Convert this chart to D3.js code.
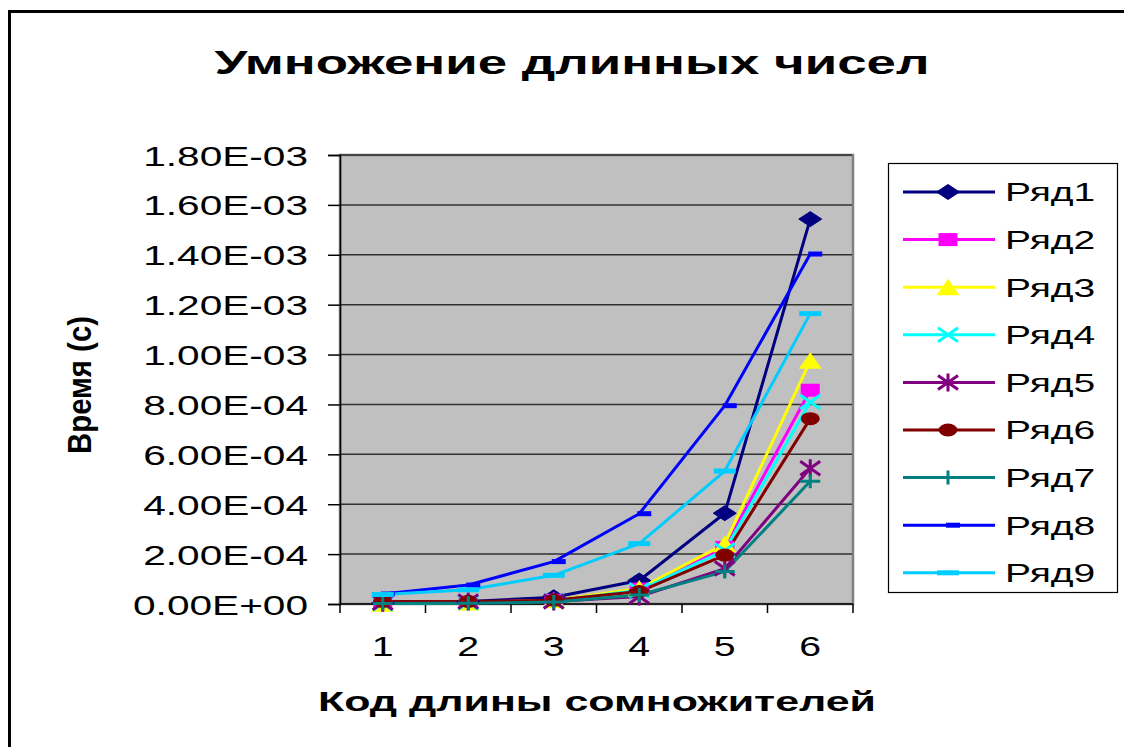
<!DOCTYPE html>
<html>
<head>
<meta charset="utf-8">
<script src="https://cdn.jsdelivr.net/npm/d3@7"></script>
<style>
  html, body { margin: 0; padding: 0; background: #fff; }
  svg { display: block; }
  text { font-family: "Liberation Sans", Arial, sans-serif; fill: #000; }
</style>
</head>
<body>
<svg id="chart" width="1124" height="747"></svg>
<script>
// ---------- data ----------
const categories = ["1", "2", "3", "4", "5", "6"];
const seriesNames = ["Ряд1", "Ряд2", "Ряд3", "Ряд4", "Ряд5", "Ряд6", "Ряд7", "Ряд8", "Ряд9"];
const row1 = [0.03e-4, 0.10e-4, 0.27e-4, 0.94e-4, 3.64e-4, 15.43e-4];
const row2 = [0.02e-4, 0.07e-4, 0.15e-4, 0.60e-4, 2.27e-4, 8.57e-4];
const row3 = [0.01e-4, 0.06e-4, 0.15e-4, 0.62e-4, 2.40e-4, 9.75e-4];
const row4 = [0.02e-4, 0.06e-4, 0.12e-4, 0.55e-4, 2.15e-4, 8.10e-4];
const row5 = [0.05e-4, 0.10e-4, 0.10e-4, 0.30e-4, 1.42e-4, 5.44e-4];
const row6 = [0.10e-4, 0.10e-4, 0.15e-4, 0.50e-4, 1.96e-4, 7.43e-4];
const row7 = [0.02e-4, 0.03e-4, 0.08e-4, 0.36e-4, 1.30e-4, 4.92e-4];
const row8 = [0.40e-4, 0.76e-4, 1.70e-4, 3.62e-4, 7.95e-4, 14.03e-4];
const row9 = [0.38e-4, 0.57e-4, 1.15e-4, 2.42e-4, 5.33e-4, 11.64e-4];
const seriesValues = [row1, row2, row3, row4, row5, row6, row7, row8, row9];
const yTicks = [0, 2e-4, 4e-4, 6e-4, 8e-4, 10e-4, 12e-4, 14e-4, 16e-4, 18e-4];
const titleText = "Умножение длинных чисел";
const xTitle = "Код длины сомножителей";
const yTitle = "Время (с)";

// ---------- styles ----------
const colors = ["#000080", "#FF00FF", "#FFFF00", "#00FFFF", "#800080", "#800000", "#008080", "#0000FF", "#00CCFF"];
const markers = ["diamond", "square", "triangle", "x", "star", "circle", "plus", "dashR", "dash"];

const svg = d3.select("#chart");
const plot = { left: 340, right: 853, top: 155, bottom: 604 };

function stretch(sel, factor) {
  sel.each(function () {
    const l = this.getComputedTextLength();
    this.setAttribute("textLength", l * factor);
    this.setAttribute("lengthAdjust", "spacingAndGlyphs");
  });
}
function fitTo(sel, w) {
  sel.attr("textLength", w).attr("lengthAdjust", "spacingAndGlyphs");
}

// outer frame (partially cropped in the reference)
svg.append("path")
  .attr("d", "M9.5,760 L9.5,11.5 L1140,11.5")
  .attr("fill", "none").attr("stroke", "#000").attr("stroke-width", 3);

// scales
const x = d3.scaleBand().domain(categories).range([plot.left, plot.right]).paddingInner(0).paddingOuter(0);
const xc = c => x(c) + x.bandwidth() / 2;
const y = d3.scaleLinear().domain([0, 18e-4]).range([plot.bottom, plot.top]);

// plot background
svg.append("rect")
  .attr("x", plot.left).attr("y", plot.top)
  .attr("width", plot.right - plot.left).attr("height", plot.bottom - plot.top)
  .attr("fill", "#C0C0C0").attr("stroke", "#808080").attr("stroke-width", 2.5);

// gridlines
svg.append("g").selectAll("line").data(yTicks.slice(1)).join("line")
  .attr("x1", plot.left).attr("x2", plot.right - 1)
  .attr("y1", d => y(d)).attr("y2", d => y(d))
  .attr("stroke", "#303030").attr("stroke-width", 1.5);

// y axis
function fmt(v) {
  const s = v.toExponential(2);
  const [m, e] = s.split("e");
  const sign = e[0] === "-" ? "-" : "+";
  const digits = e.replace(/[+-]/, "").padStart(2, "0");
  return m + "E" + sign + digits;
}
const yAxis = svg.append("g")
  .attr("transform", `translate(${plot.left},0)`)
  .call(d3.axisLeft(y).tickValues(yTicks).tickFormat(fmt).tickSize(12).tickPadding(20));
yAxis.select(".domain").attr("stroke", "#000").attr("stroke-width", 1.5);
yAxis.selectAll(".tick line").attr("stroke", "#000").attr("stroke-width", 1.5);
yAxis.selectAll(".tick text")
  .style("font-size", "28px").attr("fill", "#000").attr("dy", "0.36em");
stretch(yAxis.selectAll(".tick text"), 1.45);

// x axis
const xAxis = svg.append("g")
  .attr("transform", `translate(0,${plot.bottom})`)
  .call(d3.axisBottom(x).tickSize(0).tickPadding(32));
xAxis.select(".domain").remove();
xAxis.selectAll(".tick text").style("font-size", "28px").attr("fill", "#000");
stretch(xAxis.selectAll(".tick text"), 1.4);
svg.append("line")
  .attr("x1", plot.left).attr("x2", plot.right)
  .attr("y1", plot.bottom).attr("y2", plot.bottom)
  .attr("stroke", "#000").attr("stroke-width", 1.5);
const bounds = categories.map(c => x(c)).concat([x(categories[categories.length - 1]) + x.bandwidth()]);
svg.append("g").selectAll("line").data(bounds).join("line")
  .attr("x1", d => d).attr("x2", d => d)
  .attr("y1", plot.bottom).attr("y2", plot.bottom + 9)
  .attr("stroke", "#000").attr("stroke-width", 1.5);

// marker drawing
function drawMarker(g, type, color) {
  const sw = 3;
  switch (type) {
    case "diamond":
      g.append("path").attr("d", "M0,-7.5 L11.5,0 L0,7.5 L-11.5,0 Z").attr("fill", color).attr("stroke", color).attr("stroke-width", 1);
      break;
    case "square":
      g.append("rect").attr("x", -9.5).attr("y", -6.5).attr("width", 19).attr("height", 13).attr("fill", color);
      break;
    case "triangle":
      g.append("path").attr("d", "M0,-8.5 L11.5,8 L-11.5,8 Z").attr("fill", color);
      break;
    case "x":
      g.append("path").attr("d", "M-10,-7 L10,7 M-10,7 L10,-7").attr("stroke", color).attr("stroke-width", sw).attr("fill", "none");
      break;
    case "star":
      g.append("path").attr("d", "M-10,-7 L10,7 M-10,7 L10,-7 M0,-9 L0,9").attr("stroke", color).attr("stroke-width", sw).attr("fill", "none");
      break;
    case "circle":
      g.append("ellipse").attr("rx", 9.5).attr("ry", 6.5).attr("fill", color);
      break;
    case "plus":
      g.append("path").attr("d", "M-10,0 L10,0 M0,-7 L0,7").attr("stroke", color).attr("stroke-width", sw).attr("fill", "none");
      break;
    case "dashR":
      g.append("rect").attr("x", -2).attr("y", -2.5).attr("width", 14).attr("height", 5).attr("fill", color);
      break;
    case "dash":
      g.append("rect").attr("x", -11).attr("y", -2.5).attr("width", 22).attr("height", 5).attr("fill", color);
      break;
  }
}

// series
const line = d3.line().x((d, i) => xc(categories[i])).y(d => y(d));
const seriesG = svg.append("g");
seriesValues.forEach((vals, si) => {
  seriesG.append("path")
    .datum(vals)
    .attr("d", line)
    .attr("fill", "none")
    .attr("stroke", colors[si])
    .attr("stroke-width", 3)
    .attr("stroke-linejoin", "round");
});
seriesValues.forEach((vals, si) => {
  vals.forEach((v, i) => {
    const g = seriesG.append("g").attr("transform", `translate(${xc(categories[i])},${y(v)})`);
    drawMarker(g, markers[si], colors[si]);
  });
});

// legend
const legend = svg.append("g");
legend.append("rect")
  .attr("x", 888.5).attr("y", 163.5).attr("width", 229).attr("height", 429)
  .attr("fill", "#fff").attr("stroke", "#000").attr("stroke-width", 1.2);
seriesNames.forEach((name, i) => {
  const ly = 192 + i * 47.6;
  const item = legend.append("g").attr("transform", `translate(0,${ly})`);
  item.append("line").attr("x1", 903).attr("x2", 995).attr("y1", 0).attr("y2", 0)
    .attr("stroke", colors[i]).attr("stroke-width", 3);
  drawMarker(item.append("g").attr("transform", "translate(948,0)"), markers[i], colors[i]);
  const t = item.append("text").attr("x", 1005).attr("y", 0).attr("dy", "0.36em")
    .style("font-size", "26px").text(name);
  stretch(t, 1.5);
});

// titles
const tt = svg.append("text")
  .attr("x", 572).attr("y", 74).attr("text-anchor", "middle")
  .style("font-size", "33px").style("font-weight", "bold").text(titleText);
fitTo(tt, 715);

const xt = svg.append("text")
  .attr("x", 597).attr("y", 711).attr("text-anchor", "middle")
  .style("font-size", "28px").style("font-weight", "bold").text(xTitle);
fitTo(xt, 558);

const yt = svg.append("text")
  .attr("transform", "translate(91,385) rotate(-90)")
  .attr("text-anchor", "middle")
  .style("font-size", "34px").style("font-weight", "bold").text(yTitle);
fitTo(yt, 138);
</script>
</body>
</html>
